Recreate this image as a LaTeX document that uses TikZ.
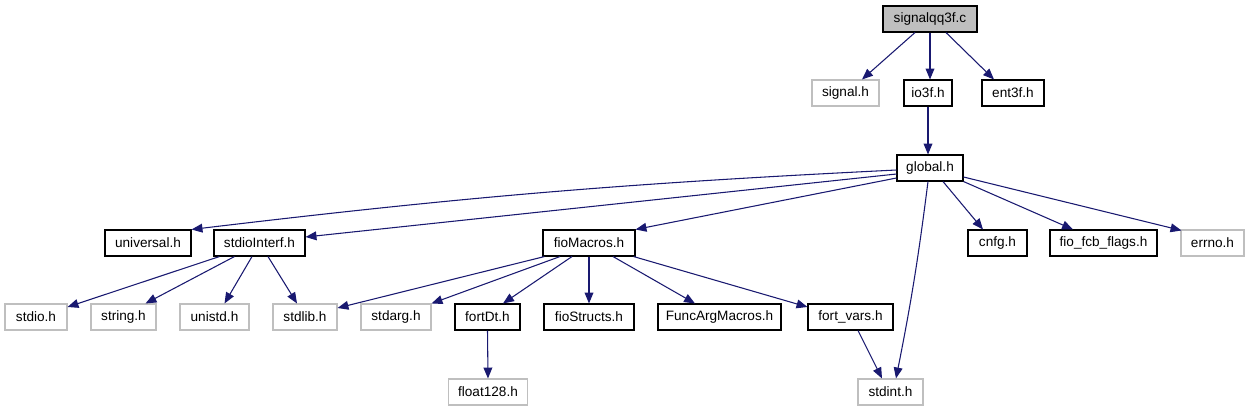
\documentclass[tikz,border=0pt]{standalone}
\usepackage{fontspec}
\setmainfont{Liberation Sans}
\usetikzlibrary{arrows.meta,calc}
\definecolor{edgeblue}{HTML}{191970}
\definecolor{grey75}{HTML}{BFBFBF}
\begin{document}
\begin{tikzpicture}[x=0.75pt,y=-0.75pt,
  hdr/.style={draw=black, line width=0.8pt, fill=white, minimum height=19.5pt, inner sep=0pt, font=\fontsize{10.2}{12}\selectfont},
  sys/.style={hdr, draw=grey75},
  rootnode/.style={hdr, fill=grey75},
  dep/.style={draw=edgeblue, line width=0.8pt, -{Triangle[length=8.2pt,width=6.6pt]}}]
\useasboundingbox (0,0) rectangle (1250,411);
% row 0
\node[rootnode, minimum width=94*0.75pt] (root) at (930,19) {signalqq3f.c};
% row 1
\node[sys, minimum width=67*0.75pt] (signal) at (845.5,93) {signal.h};
\node[hdr, minimum width=48*0.75pt] (io3f) at (928,93) {io3f.h};
\node[hdr, minimum width=62*0.75pt] (ent3f) at (1013,93) {ent3f.h};
% row 2
\node[hdr, minimum width=66*0.75pt] (global) at (930,168) {global.h};
% row 3
\node[hdr, minimum width=86*0.75pt] (universal) at (148,243) {universal.h};
\node[hdr, minimum width=91*0.75pt] (stdioInterf) at (259.5,243) {stdioInterf.h};
\node[hdr, minimum width=92*0.75pt] (fioMacros) at (589,243) {fioMacros.h};
\node[hdr, minimum width=59*0.75pt] (cnfg) at (997.5,243) {cnfg.h};
\node[hdr, minimum width=107*0.75pt] (fcb) at (1103.5,243) {fio\_fcb\_flags.h};
\node[sys, minimum width=63*0.75pt] (errno) at (1212.5,243) {errno.h};
% row 4
\node[sys, minimum width=62*0.75pt] (stdio) at (36,317) {stdio.h};
\node[sys, minimum width=65*0.75pt] (string) at (123.5,317) {string.h};
\node[sys, minimum width=69*0.75pt] (unistd) at (214.5,317) {unistd.h};
\node[sys, minimum width=64*0.75pt] (stdlib) at (305,317) {stdlib.h};
\node[sys, minimum width=70*0.75pt] (stdarg) at (396,317) {stdarg.h};
\node[hdr, minimum width=65*0.75pt] (fortDt) at (487.5,317) {fortDt.h};
\node[hdr, minimum width=90*0.75pt] (fioStructs) at (589,317) {fioStructs.h};
\node[hdr, minimum width=123*0.75pt] (funcarg) at (719.5,317) {FuncArgMacros.h};
\node[hdr, minimum width=85*0.75pt] (fortvars) at (850.5,317) {fort\_vars.h};
% row 5
\node[sys, minimum width=79*0.75pt] (float128) at (488,392) {float128.h};
\node[sys, minimum width=65*0.75pt] (stdint) at (890.5,392) {stdint.h};
% edges
\draw[dep] ($(root.south)+(-15,0)$) -- ($(signal.north)+(16.5,0)$);
\draw[dep] (root.south) -- (root.south |- io3f.north);
\draw[dep] ($(root.south)+(16,0)$) -- ($(ent3f.north)+(-19,0)$);
\draw[dep] (io3f.south) -- (io3f.south |- global.north);
\draw[dep] ($(global.west)+(0,2)$) to[bend right=2] (universal.north east);
\draw[dep] ($(global.west)+(0,6)$) -- ($(stdioInterf.east)+(0,-6)$);
\draw[dep] ($(global.west)+(0,10)$) -- (fioMacros.north east);
\draw[dep] ($(global.south)+(13,0)$) -- ($(cnfg.north)+(-14.5,0)$);
\draw[dep] (global.south east) -- ($(fcb.north)+(-30.5,0)$);
\draw[dep] ($(global.east)+(0,9)$) -- ($(errno.north west)+(1,1)$);
\draw[dep] ($(global.south)+(-2,0)$) to[bend left=2] ($(stdint.north)+(5.5,0)$);
\draw[dep] ($(stdioInterf.south west)+(6,0)$) -- ($(stdio.east)+(0,-10)$);
\draw[dep] ($(stdioInterf.south west)+(21,0)$) -- ($(string.north)+(22,0)$);
\draw[dep] ($(stdioInterf.south)+(-7.5,0)$) -- ($(unistd.north)+(10,0)$);
\draw[dep] ($(stdioInterf.south)+(8.5,0)$) -- ($(stdlib.north)+(-8,0)$);
\draw[dep] ($(fioMacros.south west)+(2,0)$) -- ($(stdlib.east)+(0,-9)$);
\draw[dep] ($(fioMacros.south)+(-29,0)$) -- (stdarg.north east);
\draw[dep] ($(fioMacros.south)+(-17,0)$) -- ($(fortDt.north)+(15.5,0)$);
\draw[dep] (fioMacros.south) -- (fioStructs.north);
\draw[dep] ($(fioMacros.south)+(24,0)$) -- ($(funcarg.north)+(-24.5,0)$);
\draw[dep] ($(fioMacros.south east)+(-2,0)$) -- ($(fortvars.west)+(0,-10)$);
\draw[dep] (fortDt.south) -- (float128.north);
\draw[dep] ($(fortvars.south)+(7.5,0)$) -- ($(stdint.north)+(-8.5,0)$);
\end{tikzpicture}
\end{document}
